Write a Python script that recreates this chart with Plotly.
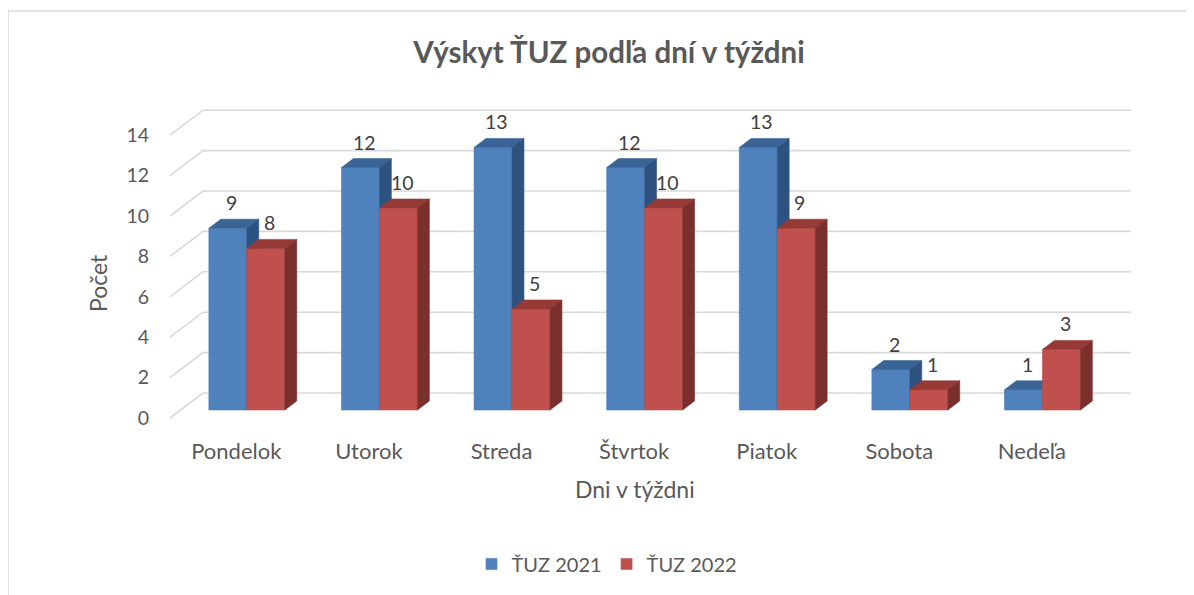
import plotly.graph_objects as go

# ---------------- data ----------------
categories = ["Pondelok", "Utorok", "Streda", "Štvrtok", "Piatok", "Sobota", "Nedeľa"]
tuz_2021 = [9, 12, 13, 12, 13, 2, 1]
tuz_2022 = [8, 10, 5, 10, 9, 1, 3]
series_names = ["ŤUZ 2021", "ŤUZ 2022"]
y_ticks = [0, 2, 4, 6, 8, 10, 12, 14]

# ---------------- style / projection ----------------
FONT = "Lato"
TXT = "#595959"
LBL = "#404040"
GRID = "#D9D9D9"
BLUE = ("#4F81BD", "#3B6496", "#2E5280")   # front, top, side
RED = ("#C0504D", "#963A37", "#7A2F2D")

W, H = 1194, 595
OFF = 8                     # page body margin
PL, PR, PT, PB = 150, 1160, 100, 430   # plot area in page px
ML, MT = PL - OFF, PT - OFF
MR, MB = W - (PR - OFF), H - (PB - OFF)
plot_w = PR - PL
plot_h = PB - PT

PX_CAT = 132.6          # px per category unit
PX_VAL = 20.2           # px per value unit
DX = 33 / PX_CAT        # full depth offset (x, data units)
DY = 25 / PX_VAL        # full depth offset (y, data units)
F0 = 0.32               # bar front-face depth fraction
FD = 0.36               # bar depth fraction
BW = 38 / PX_CAT        # bar width

x_min = -0.5 - 20 / PX_CAT
x_max = x_min + plot_w / PX_CAT
y_min = -12 / PX_VAL
y_max = y_min + plot_h / PX_VAL


def paper_x(px):
    return (px - PL) / plot_w


def paper_y(py):
    return (PB - py) / plot_h


n = len(categories)
fig = go.Figure()

# ---------------- gridlines (back wall + side wall) ----------------
gx, gy = [], []
for v in y_ticks:
    gx += [-0.5, -0.5 + DX, n - 0.5 + DX, None]
    gy += [v, v + DY, v + DY, None]
fig.add_trace(go.Scatter(x=gx, y=gy, mode="lines", line=dict(color=GRID, width=1.6),
                         hoverinfo="skip", showlegend=False))


def faces(xl, xr, v):
    a0, a1 = F0, F0 + FD
    front = [(xl + a0 * DX, a0 * DY), (xr + a0 * DX, a0 * DY),
             (xr + a0 * DX, v + a0 * DY), (xl + a0 * DX, v + a0 * DY)]
    top = [(xl + a0 * DX, v + a0 * DY), (xr + a0 * DX, v + a0 * DY),
           (xr + a1 * DX, v + a1 * DY), (xl + a1 * DX, v + a1 * DY)]
    side = [(xr + a0 * DX, a0 * DY), (xr + a1 * DX, a1 * DY),
            (xr + a1 * DX, v + a1 * DY), (xr + a0 * DX, v + a0 * DY)]
    return front, top, side


annotations = []
for s, (vals, cols, name) in enumerate(zip([tuz_2021, tuz_2022], [BLUE, RED], series_names)):
    polys = {"front": ([], []), "top": ([], []), "side": ([], [])}
    for i, v in enumerate(vals):
        xl = i - BW + s * BW
        xr = xl + BW
        fr, tp, sd = faces(xl, xr, v)
        for key, pts in (("front", fr), ("top", tp), ("side", sd)):
            px_, py_ = polys[key]
            px_ += [p[0] for p in pts] + [pts[0][0], None]
            py_ += [p[1] for p in pts] + [pts[0][1], None]
        annotations.append(dict(
            x=(xl + xr) / 2 + F0 * DX + FD * DX * 0.3, y=v + (F0 + FD) * DY,
            xref="x", yref="y", text=str(v), showarrow=False,
            yanchor="bottom", yshift=3,
            font=dict(family=FONT, size=19.5, color=LBL)))
    for key, col in (("front", cols[0]), ("top", cols[1]), ("side", cols[2])):
        px_, py_ = polys[key]
        fig.add_trace(go.Scatter(x=px_, y=py_, mode="lines", fill="toself",
                                 fillcolor=col, line=dict(color=col, width=0.6),
                                 hoverinfo="skip", showlegend=False))
    # legend entry
    fig.add_trace(go.Bar(x=[None], y=[None], name=name, marker_color=cols[0],
                         showlegend=True))

# axis titles
annotations.append(dict(x=paper_x(634.7), y=paper_y(489),
                        xref="paper", yref="paper", text="Dni v týždni", showarrow=False,
                        xanchor="center", yanchor="middle",
                        font=dict(family=FONT, size=23, color=TXT)))
annotations.append(dict(x=paper_x(98), y=paper_y(283),
                        xref="paper", yref="paper", text="Počet", showarrow=False,
                        textangle=-90, xanchor="center", yanchor="middle",
                        font=dict(family=FONT, size=23, color=TXT)))

fig.update_layout(
    width=W, height=H,
    margin=dict(l=ML, r=MR, t=MT, b=MB),
    paper_bgcolor="white", plot_bgcolor="white",
    title=dict(text="<b>Výskyt ŤUZ podľa dní v týždni</b>", x=(609 - OFF) / W,
               xanchor="center", xref="container", yref="container",
               y=1 - (53 - OFF) / H, yanchor="middle",
               font=dict(family=FONT, size=29.5, color=TXT)),
    xaxis=dict(range=[x_min, x_max], tickvals=list(range(n)), ticktext=categories,
               showgrid=False, zeroline=False, showline=False, ticks="",
               tickfont=dict(family=FONT, size=22, color=TXT), ticklabelstandoff=6),
    yaxis=dict(range=[y_min, y_max], tickvals=y_ticks, showgrid=False, zeroline=False,
               showline=False, ticks="", tickfont=dict(family=FONT, size=19.5, color=TXT)),
    legend=dict(orientation="h", xref="container", yref="container",
                x=(607 - OFF) / W, xanchor="center", y=1 - (564 - OFF) / H,
                yanchor="middle",
                font=dict(family=FONT, size=20, color=TXT), bgcolor="rgba(0,0,0,0)"),
    annotations=annotations,
    shapes=[dict(type="rect", xref="paper", yref="paper",
                 x0=paper_x(8), x1=paper_x(W + 60),
                 y0=paper_y(H + 60), y1=paper_y(11),
                 line=dict(color=GRID, width=1.5), layer="below")],
    showlegend=True,
)

fig.write_html("out.html")
